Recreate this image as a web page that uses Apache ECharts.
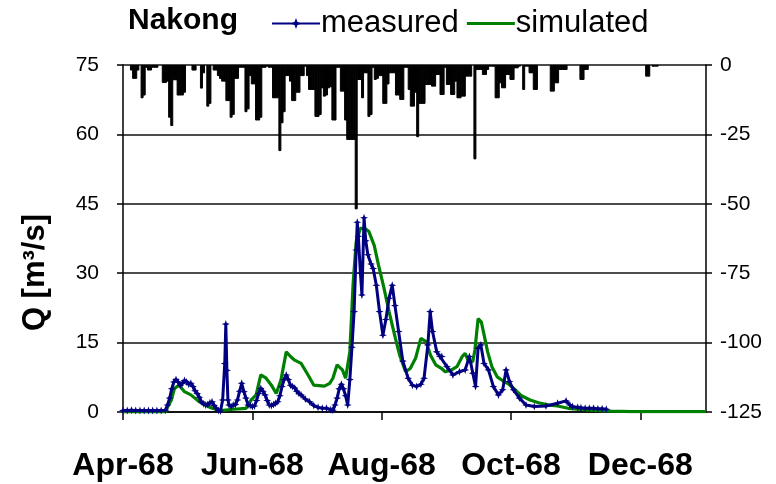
<!DOCTYPE html>
<html>
<head>
<meta charset="utf-8">
<script src="https://cdn.jsdelivr.net/npm/echarts@6/dist/echarts.min.js"></script>
<style>
  html, body { margin: 0; padding: 0; background: #fff; }
  #main { width: 776px; height: 484px; }
</style>
</head>
<body>
<div id="main"></div>
<script>
// days counted from 1 Apr 1968
var tickDays = [0, 61, 122, 183, 244];
var tickLabels = ["Apr-68", "Jun-68", "Aug-68", "Oct-68", "Dec-68"];

// discharge, [day, m3/s]
var measured = [
  [0,0.3],[2,0.3],[4,0.4],[6,0.3],[8,0.3],[10,0.3],[12,0.3],[14,0.3],[16,0.3],[18,0.3],[20,0.4],
  [21,1.5],[22,3],[23,5],[24,6.5],[25,7],[26,6.5],[27,5.8],[28,6.2],[29,6.8],[30,6.5],[31,6],
  [32,6.2],[33,5.5],[34,4.6],[35,4],[36,3.2],[37,2.2],[38,1.8],[39,1.5],[40,1.6],[41,2],[42,2.2],
  [43,1.4],[44,0.8],[45,0.3],[46,0.2],[47,2.6],[48,10.5],[48.5,19],[49,9],[49.5,2.6],[50,1.5],
  [51,1.2],[52,1.5],[53,1.6],[54,2.6],[55,4.5],[56,6.2],[57,4.4],[58,3],[59,1.5],[60,1.4],[61,1.2],
  [62,1.3],[63,2.5],[64,4],[65,5.1],[66,4.5],[67,3.7],[68,2.5],[69,1.5],[70,1.4],[71,1.6],[72,1.9],
  [73,2.2],[74,3.5],[75,5.5],[76,7],[77,8],[78,7],[79,5.8],[80,5.5],[81,5.2],[82,4.5],[83,4],
  [84,3.7],[86,2.8],[88,2.2],[90,1.4],[92,1],[94,0.8],[96,0.8],[98,0.5],[99,0.4],[100,1.5],[101,3],
  [102,5],[103,6],[104,5],[105,3.5],[106,1.5],[107,7],[108,14],[109,21.7],[110,35],[110.5,41],
  [111,38],[112,30],[112.7,25.3],[113.7,42],[114.5,37],[115.5,34],[117,32],[118,31],[119.5,27.4],
  [121,21.7],[122.6,16.6],[124,20],[125.5,24.6],[127,27.4],[128.3,23],[130,17.4],[132,11],
  [134.5,7.3],[136.5,5.8],[138.5,5.5],[140.5,6],[142,7.3],[143.8,14.5],[144.9,21.7],[146,17.4],
  [148,13],[149.5,12],[150.4,12],[152.8,9.8],[155.6,8],[158.7,8.7],[161.4,9.1],[163.4,12],[165,8.4],
  [166.3,5.5],[167.5,13.8],[168.8,14.5],[170.3,10.5],[172.4,9.1],[174.7,5.5],[177.1,3.7],[179.1,4.8],
  [180.7,9.1],[182.3,6.6],[184.2,4.8],[187,3],[190.1,1.5],[194,1.2],[199.5,1.3],[205,1.9],[209,2.4],
  [210.8,1.5],[212,1.2],[214.5,1],[216,0.9],[218,0.8],[220,0.8],[222,0.8],[224,0.7],[226,0.7],[228,0.6]
];

var simulated = [
  [0,0],[20,0],[21,1],[22.8,2.6],[24.3,5.1],[26.5,5.8],[29,4.4],[32,3.7],[36,2.2],[41,1],[46,0.3],
  [52,0.6],[58,0.8],[60.5,2.6],[62.8,3.7],[65,8],[67.5,7.3],[70,5.8],[72.3,4],[74.5,6.9],[77,13],
  [79,12],[81,11.2],[84,10.5],[87.3,8],[90,5.8],[95,5.6],[97.5,6.2],[99,7.3],[101,10.2],[103.5,9.1],
  [105,7.3],[107,13],[108.5,27.4],[110,36.8],[112,39.7],[114,39.7],[116,39],[118.5,36],[120.5,31.8],
  [123,27],[125.5,21.7],[128.5,15.9],[130.5,12.3],[133.3,8.7],[135.5,9.4],[138,11.6],[140.5,15.9],
  [143,15.2],[145,12.3],[147.5,10.2],[150,9.5],[152,8.7],[155,9.1],[157.5,9.8],[160,12],[161.4,12.7],
  [163,10.9],[165,10.9],[166,13.4],[167.5,20.2],[169,19.5],[170.5,16.3],[172,13],[174,9.8],
  [176.5,7.6],[179,6.8],[182,6],[185,4.8],[188,3.5],[192,2.6],[196,2],[201,1.5],[205,1.3],
  [210,0.8],[220,0.4],[230,0.2],[240,0.1],[275,0.1]
];

// rainfall, [day, mm]
var rain = [
  [4,2],[5,5],[6,5],[7,2],[9,12],[10,11],[11,1],[12,2],[13,2],[14,1],[15,1],[16,1],[19,6.5],[20,6.5],
  [21,6],[22,19],[23,22],[24,5.5],[25,5.5],[26,11],[27,11],[28,11],[29,10],[33,2],[34,2],[37,8.5],
  [38,3],[40,15],[41,14],[43,2],[44,2],[45,4],[46,5],[47,6],[48,6],[49,13],[50,13],[51,19],[52,18],
  [53,5],[54,5],[55,1],[56,1],[57,1],[58,17],[59,16],[60,4],[61,7],[62,7],[63,20],[64,20],[65,19],
  [66,1],[67,1],[68,0.6],[69,1],[70,1],[71,12],[72,12],[73,12],[74,31],[75,21],[76,17],[77,4],
  [78,4],[79,6],[80,13],[81,13],[82,10],[83,10],[84,4],[85,4],[86,0.6],[87,4],[88,9],[89,9],[90,9],
  [91,18.7],[92,18.7],[93,18],[94,8.4],[95,11.4],[96,11],[97,8.4],[98,8],[99,20],[100,20],[101,1],
  [102,1],[103,9.6],[104,9.6],[105,20],[106,27],[107,27],[108,27],[109,27],[110,52],[111,5.4],
  [112,5.4],[113,12],[114,3],[115,3],[116,18.7],[117,18],[118,1],[119,5.4],[120,5],[121,4],[122,4],
  [123,14],[124,14],[125,7],[126,3],[127,3],[128,3],[129,11],[130,11],[131,12.6],[132,12.6],[133,1],
  [134,1],[135,9],[136,15],[137,15],[138,10],[139,26],[140,14],[141,14],[142,14],[143,7.2],[144,7.2],
  [145,7.2],[146,7.8],[147,7.8],[148,3.6],[149,3.6],[150,10.8],[151,10.8],[152,1],[153,7.2],[154,7.2],
  [155,10.8],[156,10.8],[157,6],[158,12],[159,12],[160,11.4],[161,11.4],[162,4.2],[163,4.2],[164,4.2],
  [166,34],[167,1.8],[168,1.8],[169,1.8],[170,3.6],[171,3.6],[172,1.8],[173,0.6],[174,0.6],[175,0.6],
  [176,12],[177,12],[178,6.6],[179,8.4],[180,8.4],[181,3.6],[182,3.6],[183,5.4],[184,5.4],[185,1.2],
  [186,1.2],[187,0.6],[189,9],[190,0.6],[191,0.6],[192,3],[193,3],[194,9],[195,9],[202,9.6],[203,9.6],
  [204,6.6],[205,6.6],[206,1.8],[207,1.8],[208,1.8],[209,1.8],[216,5.4],[217,5.4],[218,1.8],[219,1.8],
  [247,4.2],[248,4.2],[250,0.6],[251,0.6],[252,0.6]
];

var FONT = "Liberation Sans, Arial, sans-serif";
var chart = echarts.init(document.getElementById("main"));

chart.setOption({
  animation: false,
  backgroundColor: "#fff",
  title: {
    text: "Nakong",
    left: 123,
    top: 1,
    textStyle: { fontFamily: FONT, fontSize: 30, fontWeight: "bold", color: "#000" }
  },
  legend: {
    left: 266,
    top: 3,
    itemWidth: 48,
    itemHeight: 14,
    itemGap: 8,
    data: [
      { name: "measured" },
      { name: "simulated", icon: "path://M0,0M0,5.5L48,5.5L48,8.5L0,8.5ZM48,14", itemStyle: { color: "#008000" } }
    ],
    textStyle: { fontFamily: FONT, fontSize: 31, color: "#000", padding: [0, 0, 0, -4] }
  },
  grid: { left: 123, right: 70, top: 65, bottom: 72 },
  graphic: [
    {
      type: "text",
      left: 20,
      top: 214,
      style: { text: "Q [m³/s]", font: "bold 31px " + FONT, fill: "#000" },
      rotation: Math.PI / 2,
      originX: 0,
      originY: 0
    }
  ],
  xAxis: {
    type: "value",
    min: 0,
    max: 275,
    axisLine: { lineStyle: { color: "#000", width: 1.5 } },
    axisTick: { customValues: tickDays, length: 8, lineStyle: { color: "#000", width: 1.5 } },
    axisLabel: {
      customValues: tickDays,
      margin: 38,
      fontFamily: FONT,
      fontSize: 32,
      fontWeight: "bold",
      color: "#000",
      formatter: function (v) {
        var i = tickDays.indexOf(v);
        return i >= 0 ? tickLabels[i] : "";
      }
    },
    splitLine: { show: false }
  },
  yAxis: [
    {
      type: "value",
      min: 0,
      max: 75,
      interval: 15,
      axisLine: { show: true, lineStyle: { color: "#000", width: 1.5 } },
      axisTick: { show: true, length: 6, lineStyle: { color: "#000", width: 1.5 } },
      axisLabel: { fontFamily: FONT, fontSize: 21, color: "#000", margin: 24 },
      splitLine: { lineStyle: { color: "#111", width: 1.6 } }
    },
    {
      type: "value",
      min: -125,
      max: 0,
      interval: 25,
      position: "right",
      axisLine: { show: true, lineStyle: { color: "#000", width: 1.5 } },
      axisTick: { show: true, length: 6, lineStyle: { color: "#000", width: 1.5 } },
      axisLabel: { fontFamily: FONT, fontSize: 21, color: "#000", margin: 14 },
      splitLine: { show: false }
    }
  ],
  series: [
    {
      name: "rain",
      type: "bar",
      yAxisIndex: 1,
      barWidth: 3,
      itemStyle: { color: "#000", borderColor: "#000", borderWidth: 1 },
      data: rain.map(function (r) { return [r[0], -r[1]]; }),
      z: 1
    },
    {
      name: "measured",
      type: "line",
      data: measured,
      color: "#000080",
      lineStyle: { width: 3, color: "#000080" },
      symbol: "path://M0,-5L1.3,-1.3L5,0L1.3,1.3L0,5L-1.3,1.3L-5,0L-1.3,-1.3Z",
      symbolSize: 8,
      showSymbol: true,
      itemStyle: { color: "#000080" },
      z: 3
    },
    {
      name: "simulated",
      type: "line",
      data: simulated,
      color: "#008000",
      lineStyle: { width: 3.2, color: "#008000" },
      symbol: "none",
      itemStyle: { color: "#008000" },
      z: 2
    }
  ]
});
</script>
</body>
</html>
